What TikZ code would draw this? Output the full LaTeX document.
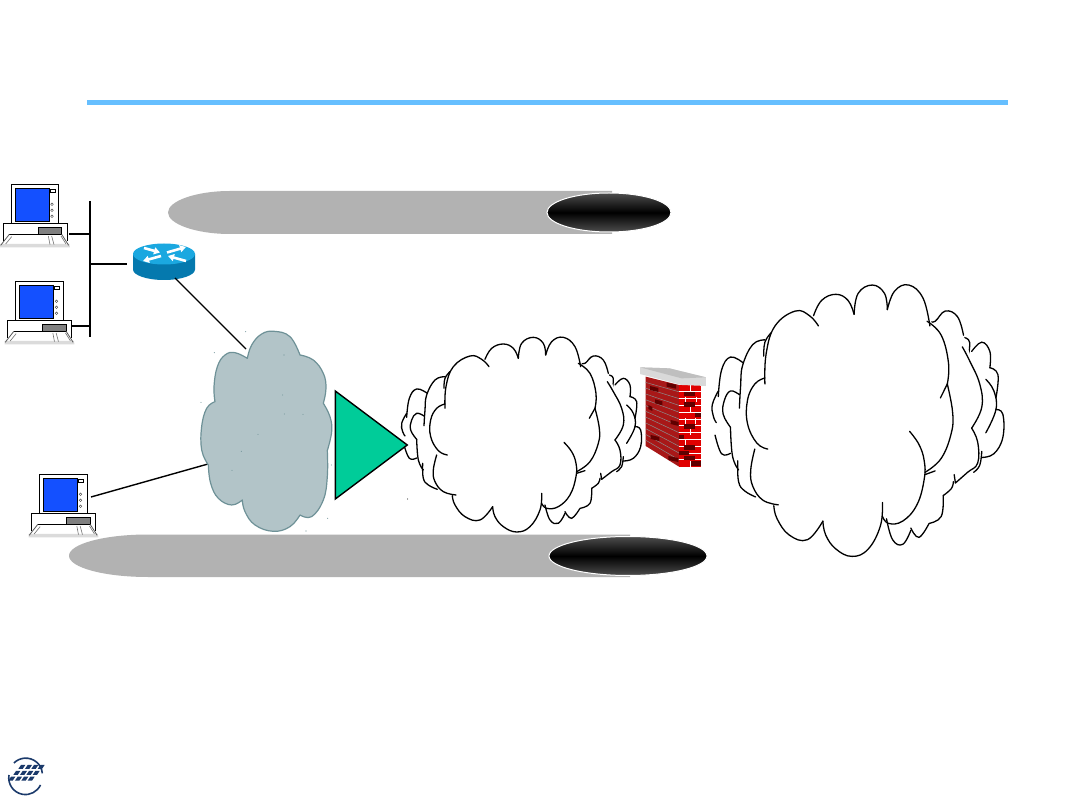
\documentclass[tikz,border=0pt]{standalone}
\usetikzlibrary{arrows.meta}
\definecolor{rulebl}{HTML}{66BFFF}
\definecolor{pill}{HTML}{B2B2B2}
\definecolor{cloudf}{HTML}{B2C4C8}
\definecolor{cloudl}{HTML}{6E9197}
\definecolor{tri}{HTML}{00CC99}
\definecolor{scr}{HTML}{1450FF}
\definecolor{rtop}{HTML}{1BA8E0}
\definecolor{rside}{HTML}{0579AE}
\definecolor{logo}{HTML}{1B3A6B}
\definecolor{brickr}{HTML}{E00000}
\definecolor{brickl}{HTML}{A81818}
\definecolor{brickd}{HTML}{600000}
\tikzset{
  link/.style={black,line width=1.4pt},
  blackoval/.style={draw=white,line width=1pt,top color=black!70,bottom color=black!70,middle color=black},
  zoomed/.style={x=0.3333pt,y=-0.3333pt},
  cloudarc/.style={black,line width=1.3pt,line cap=round},
}
\newcommand{\ca}[1]{\draw[cloudarc] plot[smooth,tension=.7] coordinates {#1};}
\newcommand{\whitecloud}{%
  % rear cloud
  \ca{(20,250)(5,280)(8,305)(15,318)}
  \ca{(20,262)(28,205)(50,177)(82,190)}
  \ca{(12,345)(28,385)(50,384)}
  \ca{(625,135)(640,145)(635,185)}
  \ca{(645,165)(670,145)(690,165)(690,200)}
  \ca{(690,200)(710,215)(705,265)}
  \ca{(680,225)(700,250)(705,290)(680,340)}
  \ca{(705,290)(722,300)(722,350)(700,385)(670,393)}
  \ca{(670,380)(665,410)(650,425)}
  \ca{(435,525)(450,570)(475,580)(495,550)}
  \ca{(495,545)(515,565)(540,535)}
  % middle cloud
  \fill[white] (112,478) -- (70,445) -- (55,390) -- (32,300) -- (50,250) -- (72,258) -- (80,195) -- (105,150) -- (150,125) -- (555,100) -- (580,78) -- (610,90) -- (625,130) -- (665,235) -- (670,285) -- (660,405) -- (605,448) -- (575,475) -- (570,520) -- (540,535) -- (425,520) -- cycle;
  \ca{(72,258)(50,250)(35,270)(32,300)(50,328)}
  \ca{(72,287)(75,240)(80,195)(105,150)(135,140)}
  \ca{(132,175)(135,145)(150,125)}
  \ca{(50,328)(55,390)(70,420)}
  \ca{(68,400)(70,445)(85,465)(112,478)}
  \ca{(540,100)(555,100)(580,78)(610,90)(625,130)}
  \ca{(622,155)(640,185)(665,235)(670,285)(645,330)}
  \ca{(645,330)(660,360)(660,405)(635,425)(605,448)}
  \ca{(602,430)(605,448)}
  \ca{(540,535)(570,520)(575,475)}
  \ca{(575,475)(595,460)(600,445)}
  % front cloud
  \fill[white] (92,320) -- (92,270) -- (135,222) -- (160,110) -- (210,78) -- (267,100) -- (310,42) -- (355,85) -- (400,22) -- (437,75) -- (490,22) -- (542,95) -- (587,180) -- (598,295) -- (595,340) -- (530,430) -- (510,495) -- (475,530) -- (425,520) -- (380,600) -- (340,607) -- (278,530) -- (195,560) -- (157,497) -- (105,455) -- (100,420) -- (110,375) -- cycle;
  \ca{(142,375)(115,362)(92,320)(92,270)(110,235)(135,222)}
  \ca{(135,235)(138,170)(160,110)(210,78)(245,88)(267,110)}
  \ca{(255,88)(275,55)(310,42)(340,55)(355,85)}
  \ca{(355,85)(365,40)(400,22)(430,40)(437,75)}
  \ca{(437,75)(455,35)(490,22)(525,50)(542,110)}
  \ca{(535,100)(570,130)(588,190)(585,235)}
  \ca{(568,265)(585,235)}
  \ca{(585,235)(598,295)(595,340)(570,395)(530,425)}
  \ca{(492,337)(515,365)(528,400)(528,440)(510,495)(475,530)(440,535)(425,520)}
  \ca{(425,490)(420,540)(390,590)(350,606)(310,590)(285,560)(278,530)}
  \ca{(278,530)(240,570)(195,560)(165,525)(157,497)}
  \ca{(168,495)(130,485)(105,455)(100,420)(110,375)}
  \ca{(530,430)(555,422)}
}
\newcommand{\computer}[2]{%
  \begin{scope}[shift={(#1,#2)},zoomed]
    \fill[black!14] (0,222) -- (208,222) -- (210,232) -- (0,232) -- cycle;
    \draw[black,line width=1pt,fill=white] (34,43) rectangle (176,160);
    \fill[scr] (46,55) rectangle (148,155);
    \draw[black,line width=.7pt] (46,55) rectangle (148,155);
    \draw[black,line width=.7pt] (150,57) rectangle (165,68);
    \foreach \cy in {103,121,139} \draw[black!70,line width=.4pt] (156,\cy) circle (4);
    \draw[black,line width=1pt] (10,212) -- (10,160) -- (202,160) -- (202,212);
    \draw[black,line width=.8pt,fill=black!50] (115,172) rectangle (185,193);
    \draw[black,line width=.9pt] (28,193) -- (185,193);
    \draw[black!65,line width=.8pt] (28,193) -- (2,226) (185,193) -- (206,226);
    \draw[black!55,line width=.6pt] (35,200) -- (17,222) (145,198) -- (150,224) (155,198) -- (162,224) (183,198) -- (198,222);
  \end{scope}%
}
\begin{document}
\begin{tikzpicture}[x=1pt,y=-1pt]
\useasboundingbox (0,0) rectangle (1080,810);
\fill[white] (0,0) rectangle (1080,810);
\fill[rulebl] (87,100.5) rectangle (1008,105.5);

% named end points of the connectors
\coordinate (pcone) at (69,234);
\coordinate (pctwo) at (72,326);
\coordinate (pcthree) at (91,497);
\coordinate (bustop) at (90,201);
\coordinate (busbot) at (90,337);
\coordinate (busone) at (90,234);
\coordinate (bustwo) at (90,326);
\coordinate (busrouter) at (90,264);
\coordinate (routerw) at (127,264);
\coordinate (routers) at (175,278);
\coordinate (cloudtop) at (246,349);
\coordinate (cloudleft) at (208,464);

% grey pills
\fill[pill] (612,191) -- (230,191) .. controls (196,191) and (168,201) .. (168,212.5) .. controls (168,224) and (196,234) .. (230,234) -- (612,234) -- cycle;
\path[blackoval] (609,212.5) ellipse[x radius=62,y radius=19.5];
\fill[pill] (630,534.5) -- (148,534.5) .. controls (104,534.5) and (69,544) .. (69,555.75) .. controls (69,567.5) and (104,577) .. (148,577) -- (630,577) -- cycle;
\path[blackoval] (628,556) ellipse[x radius=79,y radius=19.5];

% computers
\computer{0}{170}
\computer{4.5}{267}
\computer{28.5}{460}

% bus and links
\draw[black,line width=2pt] (bustop) -- (busbot);
\draw[link] (pcone) -- (busone);
\draw[link] (pctwo) -- (bustwo);
\draw[link] (busrouter) -- (routerw);

% router
\fill[rside] (133,254) -- (133,269.5) .. controls (133,275.3) and (147,280) .. (164,280) .. controls (181,280) and (195,275.3) .. (195,269.5) -- (195,254) -- cycle;
\fill[rtop] (164,254) ellipse[x radius=31,y radius=10.5];
\begin{scope}[white,line width=2.6pt,>={Triangle[length=6pt,width=7pt]}]
  \draw[->] (167,252.5) -- (186,247);
  \draw[->] (144,248) -- (160,252.5);
  \draw[->] (161,256) -- (143,261);
  \draw[->] (186,261) -- (168,256);
\end{scope}
\draw[link] (routers) -- (cloudtop);
\draw[link] (pcthree) -- (cloudleft);

% grey cloud
\begin{scope}[shift={(190,320)},zoomed]
  \draw[draw=cloudl,fill=cloudf,line width=1.2pt,line join=round]
    plot[smooth,tension=.7] coordinates {(75,245)(72,200)(82,140)(105,105)(135,98)(172,115)}
    -- plot[smooth,tension=.7] coordinates {(172,115)(185,75)(215,42)(253,34)(300,50)(330,105)}
    -- plot[smooth,tension=.7] coordinates {(330,105)(370,120)(400,160)(408,205)(400,250)}
    -- plot[smooth,tension=.7] coordinates {(400,250)(420,290)(425,335)(412,392)}
    -- plot[smooth,tension=.7] coordinates {(412,392)(412,470)(400,540)(365,590)(330,585)}
    -- plot[smooth,tension=.7] coordinates {(330,585)(300,620)(250,634)(195,615)(165,575)(157,540)}
    -- plot[smooth,tension=.7] coordinates {(157,540)(125,555)(85,535)(62,490)(55,435)}
    -- plot[smooth,tension=.7] coordinates {(55,435)(35,390)(35,320)(50,265)(75,245)}
    -- cycle;
  \foreach \sx/\sy in {167/35,73/98,33/247,282/105,278/225,283/282,339/283,204/343,154/394,126/451,424/435,413/595,348/633}
    \fill[cloudl] (\sx,\sy) circle (1.6);
  \fill[black] (653,537) circle (1.6);
\end{scope}

% white clouds
\begin{scope}[shift={(400,330)},x=0.3333pt,y=-0.3333pt]
  \whitecloud
\end{scope}
\begin{scope}[shift={(710.2,274.8)},x=0.4053pt,y=-0.4647pt]
  \whitecloud
\end{scope}

% triangle
\draw[black,line width=1.4pt,fill=tri,line join=miter] (335.3,391) -- (407.3,445) -- (335.3,499) -- cycle;

% firewall
\begin{scope}[shift={(630,350)},zoomed]
  \fill[brickl] (47,80) -- (147,105) -- (147,350) -- (47,288) -- cycle;
  \fill[brickr] (147,105) rectangle (212,350);
  \foreach \t in {1,...,11}{
    \pgfmathsetmacro{\yl}{80+\t*208/12}
    \pgfmathsetmacro{\yr}{105+\t*245/12}
    \draw[black!45,line width=.5pt] (47,\yl) -- (147,\yr);
    \draw[white,line width=.9pt] (147,\yr) -- (212,\yr);
  }
  \foreach \x/\y/\w in {60/108/25,75/148/22,55/165/12,122/210/24,62/255/26,115/318/30,110/98/28}
    \fill[brickd] (\x,\y) -- ++(\w,6) -- ++(0,12) -- ++(-\w,-6) -- cycle;
  \foreach \x/\y/\w/\h in {162/125/34/12,162/157/32/14,195/188/17/14,162/222/34/14,147/255/15/12,162/286/34/13,147/303/30/12,162/318/34/13,180/333/32/15}
    \fill[brickd] (\x,\y) rectangle ++(\w,\h);
  \foreach \x/\y/\z in {180/105/125,165/140/157,200/140/157,180/172/188,165/205/222,195/205/222,180/238/255,165/270/286,180/333/350}
    \draw[white,line width=.9pt] (\x,\y) -- (\x,\z);
  \fill[black!15] (30,52) -- (118,55) -- (228,82) -- (228,108) -- (155,105) -- (30,72) -- cycle;
  \fill[black!25] (30,52) -- (118,55) -- (228,82) -- (155,85) -- cycle;
\end{scope}

% logo
\begin{scope}[shift={(0,740)},zoomed]
  \draw[logo,line width=1.6pt] (27,105) arc[start angle=190,end angle=25,radius=50];
  \draw[logo,line width=1.6pt] (127,100) arc[start angle=355,end angle=225,radius=50];
  \foreach \x/\y in {55/75,75/75,94/75,113/75,40/93,60/93,79/93,98/93,25/110,45/110,64/110,83/110}
    \fill[logo] (\x,\y+12) -- ++(8,-12) -- ++(13,0) -- ++(-8,12) -- cycle;
\end{scope}
\end{tikzpicture}
\end{document}
